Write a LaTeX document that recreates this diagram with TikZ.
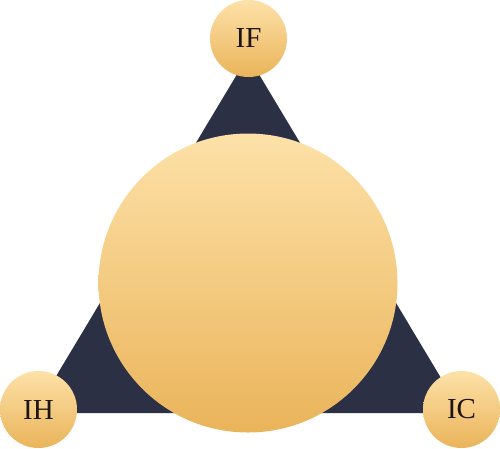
\documentclass[tikz,border=0pt]{standalone}
\usepackage{fontspec}
\setmainfont{Liberation Serif}
\definecolor{navy}{HTML}{2B3044}
\definecolor{goldtop}{HTML}{FDE1A8}
\definecolor{goldbot}{HTML}{EAB45A}
\definecolor{inktext}{HTML}{1E1414}
\begin{document}
\begin{tikzpicture}[x=1pt,y=-1pt,
  ball/.style={circle,inner sep=0pt,minimum size=#1,top color=goldtop,bottom color=goldbot,draw=none},
  lbl/.style={text=inktext,font=\fontsize{29}{32}\selectfont}]
\useasboundingbox (0,0) rectangle (500,448);
\coordinate (A) at (248,56);
\coordinate (B) at (34,413);
\coordinate (C) at (462,413);
\fill[navy] (A) -- (B) -- (C) -- cycle;
\node[ball=299pt] (core) at (248,283) {};
\node[ball=77pt] (if) at (248.5,38.5) {};
\node[ball=77pt] (ih) at (38.5,409.5) {};
\node[ball=77pt] (ic) at (461.5,409.5) {};
\node[lbl] at (if) {IF};
\node[lbl] at (ih) {IH};
\node[lbl] at (ic) {IC};
\end{tikzpicture}
\end{document}
